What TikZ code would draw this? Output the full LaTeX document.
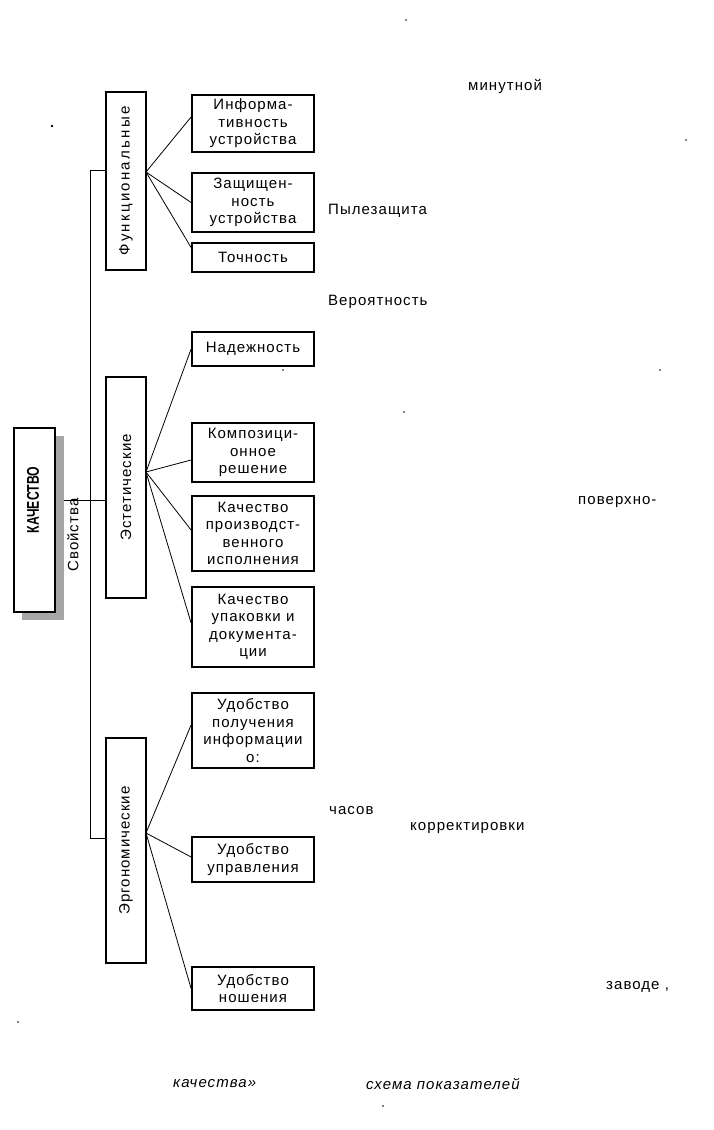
\documentclass[tikz,border=0pt]{standalone}
\usepackage{fontspec}
\setmainfont[LetterSpace=7]{Liberation Sans}
\newfontfamily\widesf[LetterSpace=15]{Liberation Sans}
\newfontfamily\plainsf{Liberation Sans}
\begin{document}
\begin{tikzpicture}[x=1pt,y=-1pt,
  box/.style={draw,line width=1.8pt,fill=white,inner sep=0pt,align=center,
    minimum width=122pt,font=\fontsize{15}{17.5}\selectfont},
  vbox/.style={draw,line width=1.8pt,fill=white,inner sep=0pt,minimum width=40pt},
  vlab/.style={rotate=90,inner sep=0pt,font=\fontsize{15}{17}\selectfont},
  conn/.style={line width=0.8pt},
  stray/.style={anchor=west,inner sep=0pt,font=\fontsize{15}{17}\selectfont},
  strayit/.style={anchor=west,inner sep=0pt,font=\fontsize{15}{17}\selectfont\itshape},
  speck/.style={fill=black,inner sep=0pt,minimum size=1.6pt,circle}
]
\useasboundingbox (0,0) rectangle (714,1130);
% main quality box with shadow
\node[fill=gray!70,inner sep=0pt,minimum width=42pt,minimum height=184pt] (kshadow) at (43,528) {};
\node[draw,line width=1.8pt,fill=white,inner sep=0pt,minimum width=41pt,minimum height=184pt] (kach) at (34.5,520) {};
\node[rotate=90,inner sep=0pt] (kachl) at (33,500) {\scalebox{0.72}[1]{\plainsf\fontsize{17}{18}\selectfont\bfseries КАЧЕСТВО}};
\node[vlab] (svoi) at (73,535) {Свойства};
% group boxes
\node[vbox,minimum height=178pt] (func) at (126,181) {};
\node[vlab] (funcl) at (func.center) {\widesf Функциональные};
\node[vbox,minimum height=221pt] (est) at (126,487.5) {};
\node[vlab] (estl) at (est.center) {Эстетические};
\node[vbox,minimum height=225pt] (erg) at (126,850.5) {};
\node[vlab] (ergl) at (erg.center) {Эргономические};
% item boxes
\node[box,minimum height=57pt] (info) at (253,123.5) {Информа-\\тивность\\устройства};
\node[box,minimum height=59pt] (zash) at (253,202.5) {Защищен-\\ность\\устройства};
\node[box,minimum height=29pt] (toch) at (253,257.5) {Точность};
\node[box,minimum height=34pt] (nadezh) at (253,349) {Надежность};
\node[box,minimum height=59pt] (komp) at (253,452.5) {Композици-\\онное\\решение};
\node[box,minimum height=75pt] (kproiz) at (253,533.5) {Качество\\производст-\\венного\\исполнения};
\node[box,minimum height=80pt] (kupak) at (253,627) {Качество\\упаковки и\\документа-\\ции};
\node[box,minimum height=75pt] (udinf) at (253,730.5) {Удобство\\получения\\информации\\о:};
\node[box,minimum height=45pt] (udupr) at (253,859.5) {Удобство\\управления};
\node[box,minimum height=43pt] (udnosh) at (253,988.5) {Удобство\\ношения};
% spine
\coordinate (spt) at (90,170);
\coordinate (spb) at (90,838);
\draw[conn,line width=1pt] ([yshift=11pt]func.west) -- (spt) -- (spb) -- ([yshift=12.5pt]erg.west);
\draw[conn,line width=1pt] ([yshift=28pt]kshadow.east) -- ([yshift=-12.5pt]est.west);
% fans
\coordinate (ff) at (146,172);
\coordinate (ef) at (146,472);
\coordinate (gf) at (146,833);
\draw[conn] (ff) -- ([yshift=6.5pt]info.west);
\draw[conn] (ff) -- (zash.west);
\draw[conn] (ff) -- ([yshift=10pt]toch.west);
\draw[conn] (ef) -- (nadezh.west);
\draw[conn] (ef) -- ([yshift=-7.5pt]komp.west);
\draw[conn] (ef) -- ([yshift=3.5pt]kproiz.west);
\draw[conn] (ef) -- ([yshift=4pt]kupak.west);
\draw[conn] (gf) -- ([yshift=5.5pt]udinf.west);
\draw[conn] (gf) -- ([yshift=2.5pt]udupr.west);
\draw[conn] (gf) -- (udnosh.west);
% stray words
\node[stray] (t1) at (468,86) {минутной};
\node[stray] (t2) at (328,211) {Пылезащита};
\node[stray] (t3) at (328,302) {Вероятность};
\node[stray] (t4) at (578,502) {поверхно-};
\node[stray] (t5) at (329,811) {часов};
\node[stray] (t6) at (410,828) {корректировки};
\node[stray] (t7) at (606,987) {заводе ,};
\node[strayit] (t8) at (173,1084) {качества»};
\node[strayit] (t9) at (366,1084) {схема показателей};
% specks
\node[speck,minimum size=2.8pt] (s1) at (52,126) {};
\node[speck] (s2) at (406,20) {};
\node[speck] (s3) at (686,140) {};
\node[speck] (s4) at (283,370) {};
\node[speck] (s5) at (660,370) {};
\node[speck] (s6) at (404,412) {};
\node[speck] (s7) at (18,1022) {};
\node[speck] (s8) at (383,1106) {};
\end{tikzpicture}
\end{document}
